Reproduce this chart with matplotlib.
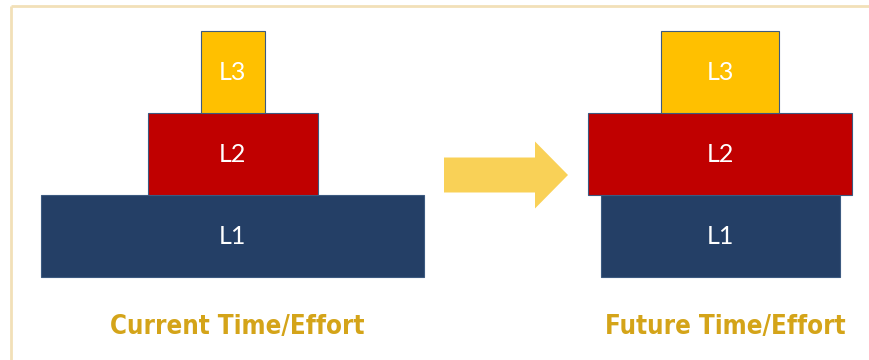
import matplotlib.pyplot as plt
from matplotlib.patches import FancyArrow

# Level names and bar widths (relative time/effort in px)
levels = ['L1', 'L2', 'L3']
current_widths = [383, 170, 64]
future_widths = [239, 264, 118]
level_colors = ['#243F66', '#C00000', '#FFC000']
labels = ['Current Time/Effort', 'Future Time/Effort']

# Layout (pixel coordinates of the 869x360 canvas)
W, H = 869, 360
stack_centers = [232.5, 720.0]
bar_h = 82
base_y = 277

fig = plt.figure(figsize=(W / 100, H / 100), dpi=100)
ax = fig.add_axes([0, 0, 1, 1])
ax.set_xlim(0, W)
ax.set_ylim(H, 0)
ax.axis('off')

# thin tan frame, top and left edges only
ax.plot([11, 11], [H, 5.5], color='#F2E0B8', lw=2, solid_capstyle='butt')
ax.plot([11, W], [5.5, 5.5], color='#F2E0B8', lw=2, solid_capstyle='butt')

for cx, widths, label in zip(stack_centers, [current_widths, future_widths], labels):
    for i, (lvl, w, c) in enumerate(zip(levels, widths, level_colors)):
        y_bottom = base_y - i * bar_h
        ax.bar(cx, -bar_h, width=w, bottom=y_bottom, color=c,
               edgecolor='#3C5A80', linewidth=0.8, zorder=2)
        ax.text(cx, y_bottom - bar_h / 2 + 1, lvl, ha='center', va='center',
                color='white', fontsize=18, family='Lato', zorder=3)
    ax.text(cx + 5, 327, label, ha='center', va='center', color='#D4A419',
            fontsize=18.5, fontweight='bold', fontstretch='condensed',
            family='DejaVu Sans', zorder=3)

# transition arrow between stacks
arrow = FancyArrow(444, 175, 124, 0, width=35, head_width=67, head_length=33,
                   length_includes_head=True, color='#F9CC45', alpha=0.9,
                   linewidth=0, zorder=2)
ax.add_patch(arrow)

plt.savefig('out.png', dpi=100)
